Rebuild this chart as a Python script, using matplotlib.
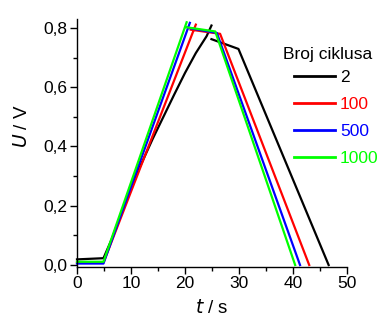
import numpy as np
import matplotlib
matplotlib.use("Agg")
import matplotlib.pyplot as plt
from matplotlib.ticker import MultipleLocator, FuncFormatter

plt.rcParams['font.family'] = ['Liberation Sans', 'DejaVu Sans']

# Series: rising branch, then (after a break) plateau + falling branch
labels = ["2", "100", "500", "1000"]
colors = ["#000000", "#ff0000", "#0000ff", "#00ff00"]
legend_title = "Broj ciklusa"

t_black = [0, 4.9, 6.5, 8, 10, 12, 14, 16, 18, 20, 22, 24, 24.9,
           np.nan, 24.9, 29.9, 46.6]
u_black = [0.019, 0.023, 0.09, 0.165, 0.268, 0.345, 0.425, 0.5, 0.575, 0.648, 0.715, 0.772, 0.808,
           np.nan, 0.762, 0.729, 0.0]

t_red = [0, 4.9, 22.0, np.nan, 21.05, 26.5, 43.0]
u_red = [0.008, 0.008, 0.811, np.nan, 0.794, 0.780, 0.0]

t_blue = [0, 4.9, 20.9, np.nan, 20.6, 25.9, 41.3]
u_blue = [0.005, 0.005, 0.817, np.nan, 0.800, 0.783, 0.0]

t_green = [0, 4.9, 20.3, np.nan, 20.3, 25.6, 40.4]
u_green = [0.011, 0.011, 0.819, np.nan, 0.802, 0.788, 0.0]

series_t = [t_black, t_red, t_blue, t_green]
series_u = [u_black, u_red, u_blue, u_green]

fig = plt.figure(figsize=(3.83, 3.22), dpi=100)
ax = fig.add_axes([77/383, 1-266.5/322, (347-77)/383, (266.5-19)/322])

for t, u, c, lab in zip(series_t, series_u, colors, labels):
    ax.plot(t, u, color=c, lw=1.6, label=lab, clip_on=False)

ax.set_xlim(0, 50)
ax.set_ylim(-0.005, 0.83)
ax.xaxis.set_major_locator(MultipleLocator(10))
ax.xaxis.set_minor_locator(MultipleLocator(5))
ax.yaxis.set_major_locator(MultipleLocator(0.2))
ax.yaxis.set_minor_locator(MultipleLocator(0.1))
ax.yaxis.set_major_formatter(FuncFormatter(lambda v, p: f"{v:.1f}".replace(".", ",")))

for s in ["top", "right"]:
    ax.spines[s].set_visible(False)
for s in ["left", "bottom"]:
    ax.spines[s].set_linewidth(1.0)
ax.tick_params(which="major", direction="out", length=5, width=1.0, labelsize=12.5, pad=2)
ax.tick_params(which="minor", direction="out", length=3, width=1.0)

fig.text(22/383, 1-126/322, "$\\mathit{U}$ / V", rotation=90, ha="center", va="center", fontsize=13.5)
fig.text(212/383, 1-308/322, "$\\mathit{t}$ / s", ha="center", va="center", fontsize=13.5)

fig.text(283/383, 1-54/322, legend_title, ha="left", va="center", fontsize=12.5)
leg = ax.legend(loc="upper left", bbox_to_anchor=(294/383, 1-70/322),
                bbox_transform=fig.transFigure, frameon=False, fontsize=12.5,
                handlelength=2.35, handletextpad=0.3, labelspacing=0.68, borderpad=0, borderaxespad=0)
for txt, c in zip(leg.get_texts(), colors):
    txt.set_color(c)
for h in leg.get_lines():
    h.set_linewidth(2.0)

fig.savefig("out.png", dpi=100)
